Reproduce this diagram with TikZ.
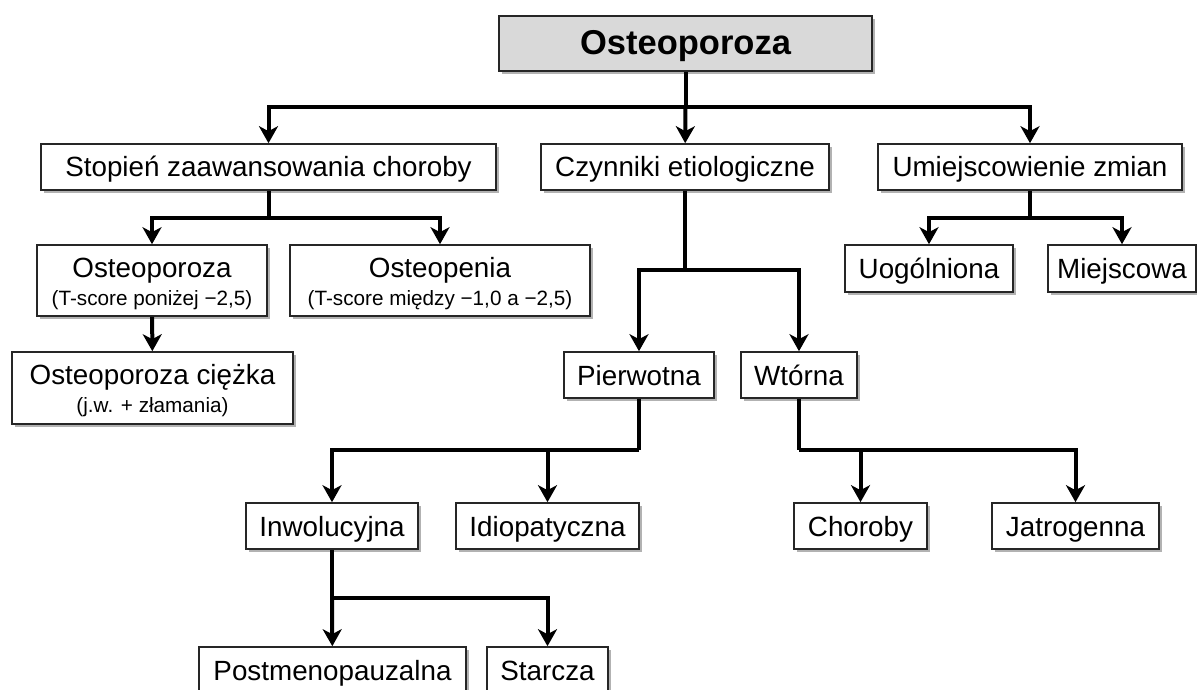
\documentclass[tikz,border=0pt]{standalone}
\usepackage{fontspec}
\setmainfont{Liberation Sans}
\usepackage{tikz}
\usetikzlibrary{arrows.meta,shadows}

\newcommand{\mainsize}{\fontsize{27.8}{31}\selectfont}
\newcommand{\notesize}{\fontsize{20.7}{23}\selectfont}
\newcommand{\topstrut}{\rule{0pt}{26pt}}

\begin{document}
\begin{tikzpicture}[x=1pt, y=-1pt,
    box/.style={draw=black!85, line width=1.6pt, fill=white, inner sep=0pt,
        align=center, font=\mainsize,
        drop shadow={shadow xshift=3pt, shadow yshift=-3pt, fill=black, opacity=0.3}},
    onebox/.style={box, text height=22pt, text depth=2pt},
    topbox/.style={box, fill=black!15, text height=25pt, text depth=2pt,
        font=\fontsize{34.5}{38}\selectfont\bfseries},
    dims/.style 2 args={minimum width=#1pt, minimum height=#2pt},
    link/.style={line width=4pt},
    arr/.style={link, -{Stealth[length=17pt, width=19pt, inset=5pt]}},
    ]
    \useasboundingbox (0,0) rectangle (1197,690);

    % levels from top to bottom
    \node[topbox, dims={373}{55}] (root) at (685.5,43.5) {Osteoporoza};

    \node[onebox, dims={455}{46}] (stopien) at (268.5,167) {Stopień zaawansowania choroby};
    \node[onebox, dims={288}{46}] (czyn) at (685,167) {Czynniki etiologiczne};
    \node[onebox, dims={304}{46}] (umiej) at (1030,167) {Umiejscowienie zmian};

    \node[box, dims={230}{71}] (ostp) at (152,280.5)
        {\topstrut Osteoporoza\\[-3pt]{\notesize (T-score poniżej −2,5)}};
    \node[box, dims={300}{71}] (ostpen) at (440,280.5)
        {\topstrut Osteopenia\\[-3pt]{\notesize (T-score między −1,0 a −2,5)}};
    \node[box, dims={281}{72}] (ciezka) at (152.5,388)
        {\topstrut Osteoporoza ciężka\\[-3pt]{\notesize (j.w. + złamania)}};
    \node[onebox, dims={168}{47}] (uog) at (929,268.5) {Uogólniona};
    \node[onebox, dims={148}{47}] (miej) at (1122,268.5) {Miejscowa};

    \node[onebox, dims={150}{46}] (pierw) at (639,375) {Pierwotna};
    \node[onebox, dims={116}{46}] (wtor) at (799,375) {Wtórna};

    \node[onebox, dims={172}{46}] (inw) at (332,526) {Inwolucyjna};
    \node[onebox, dims={183}{46}] (idio) at (547.5,526) {Idiopatyczna};
    \node[onebox, dims={133}{46}] (chor) at (860.5,526) {Choroby};
    \node[onebox, dims={167}{46}] (jatr) at (1075.5,526) {Jatrogenna};

    \node[onebox, dims={267}{46}] (postm) at (332.5,670) {Postmenopauzalna};
    \node[onebox, dims={121}{46}] (starcza) at (547.5,670) {Starcza};

    % branch points
    \coordinate (j0) at (685.5,107);
    \coordinate (j1) at (268.5,218);
    \coordinate (j2) at (1030,218);
    \coordinate (j3) at (685,270);
    \coordinate (j4) at (639,450);
    \coordinate (j5) at (799,450);
    \coordinate (j6) at (332,598);

    \draw[link] (root) -- (j0);
    \draw[arr] (j0) -| (stopien);
    \draw[arr] (j0) -- (czyn);
    \draw[arr] (j0) -| (umiej);

    \draw[link] (stopien) -- (j1);
    \draw[arr] (j1) -| (ostp);
    \draw[arr] (j1) -| (ostpen);
    \draw[arr] (ostp) -- (ciezka);

    \draw[link] (umiej) -- (j2);
    \draw[arr] (j2) -| (uog);
    \draw[arr] (j2) -| (miej);

    \draw[link] (czyn) -- (j3);
    \draw[arr] (j3) -| (pierw);
    \draw[arr] (j3) -| (wtor);

    \draw[link] (pierw) -- (j4);
    \draw[arr] (j4) -| (inw);
    \draw[arr] (idio |- j4) -- (idio);

    \draw[link] (wtor) -- (j5);
    \draw[arr] (j5) -| (jatr);
    \draw[arr] (chor |- j5) -- (chor);

    \draw[link] (inw) -- (j6);
    \draw[arr] (j6) -- (postm);
    \draw[arr] (j6) -| (starcza);
\end{tikzpicture}
\end{document}
